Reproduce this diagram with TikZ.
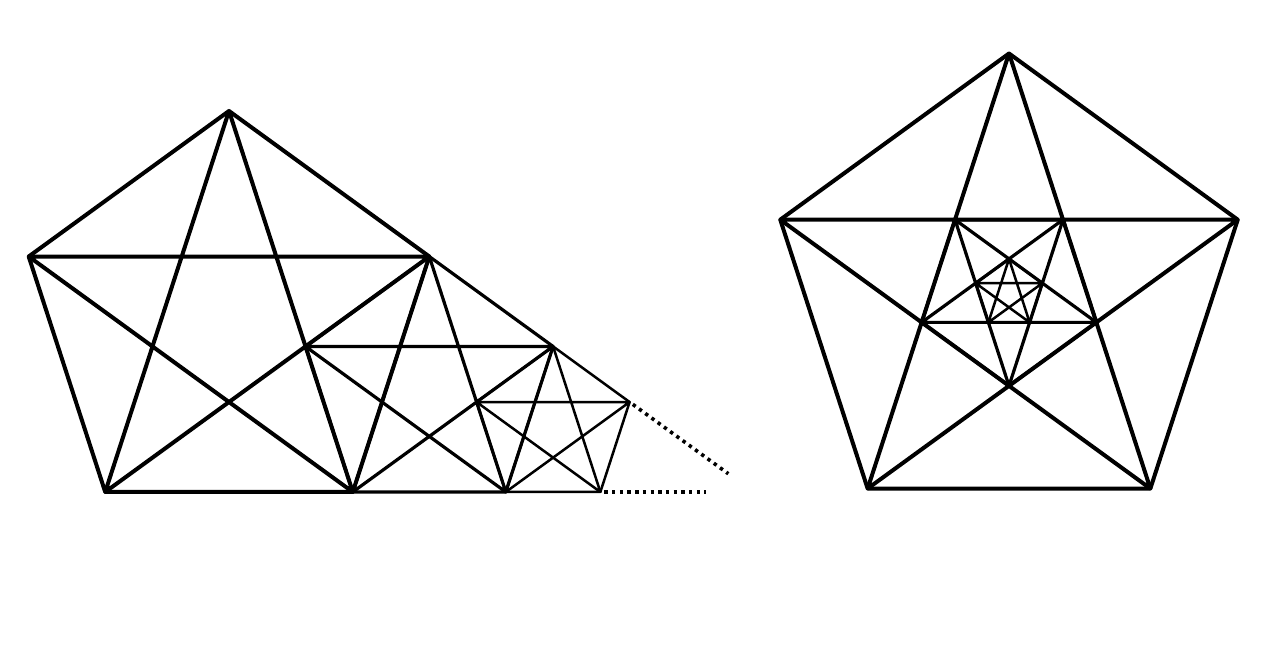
\documentclass[tikz,border=0pt]{standalone}
\usetikzlibrary{calc}
\newcommand\pentstar[4]{% center, radius, start angle, line width
  \draw[line width=#4] ($(#1)+(#3:#2)$) -- ($(#1)+(#3+72:#2)$) -- ($(#1)+(#3+144:#2)$) -- ($(#1)+(#3+216:#2)$) -- ($(#1)+(#3+288:#2)$) -- cycle;
  \draw[line width=#4] ($(#1)+(#3:#2)$) -- ($(#1)+(#3+144:#2)$) -- ($(#1)+(#3+288:#2)$) -- ($(#1)+(#3+72:#2)$) -- ($(#1)+(#3+216:#2)$) -- cycle;
}
\tikzset{dotline/.style={line width=3.6pt, dash pattern=on 3.4pt off 4.3pt}}
\begin{document}
\begin{tikzpicture}[x=1pt,y=1pt,line join=round,line cap=round]
\fill[white] (0,0) rectangle (1280,670);
\useasboundingbox (0,0) rectangle (1280,670);
% left figure
\def\Ra{210.6}
\pgfmathsetmacro\Rb{\Ra/1.618034}
\pgfmathsetmacro\Rc{\Rb/1.618034}
\coordinate (C1) at (229,348.4);
\coordinate (C2) at ($(C1)+(18:\Ra)+(0,-\Rb)$);
\coordinate (C3) at ($(C2)+(18:\Rb)+(0,-\Rc)$);
\pentstar{C1}{\Ra}{90}{4pt}
\pentstar{C2}{\Rb}{90}{3.2pt}
\pentstar{C3}{\Rc}{90}{2.5pt}
\coordinate (R3) at ($(C3)+(18:\Rc)$);
\coordinate (B3) at ($(C3)+(306:\Rc)$);
\coordinate (E1) at ($(R3)+(-36:122)$);
\coordinate (E2) at ($(B3)+(106,0)$);
\draw[dotline, line cap=butt] ($(R3)!4pt!(E1)$) -- (E1);
\draw[dotline, line cap=butt] ($(B3)!4pt!(E2)$) -- (E2);
% right figure
\def\Rd{240.5}
\pgfmathsetmacro\Re{\Rd*0.381966}
\pgfmathsetmacro\Rf{\Re*0.381966}
\coordinate (D1) at (1009,376);
\pentstar{D1}{\Rd}{90}{4pt}
\pentstar{D1}{\Re}{270}{3.2pt}
\pentstar{D1}{\Rf}{90}{2.5pt}
\end{tikzpicture}
\end{document}
